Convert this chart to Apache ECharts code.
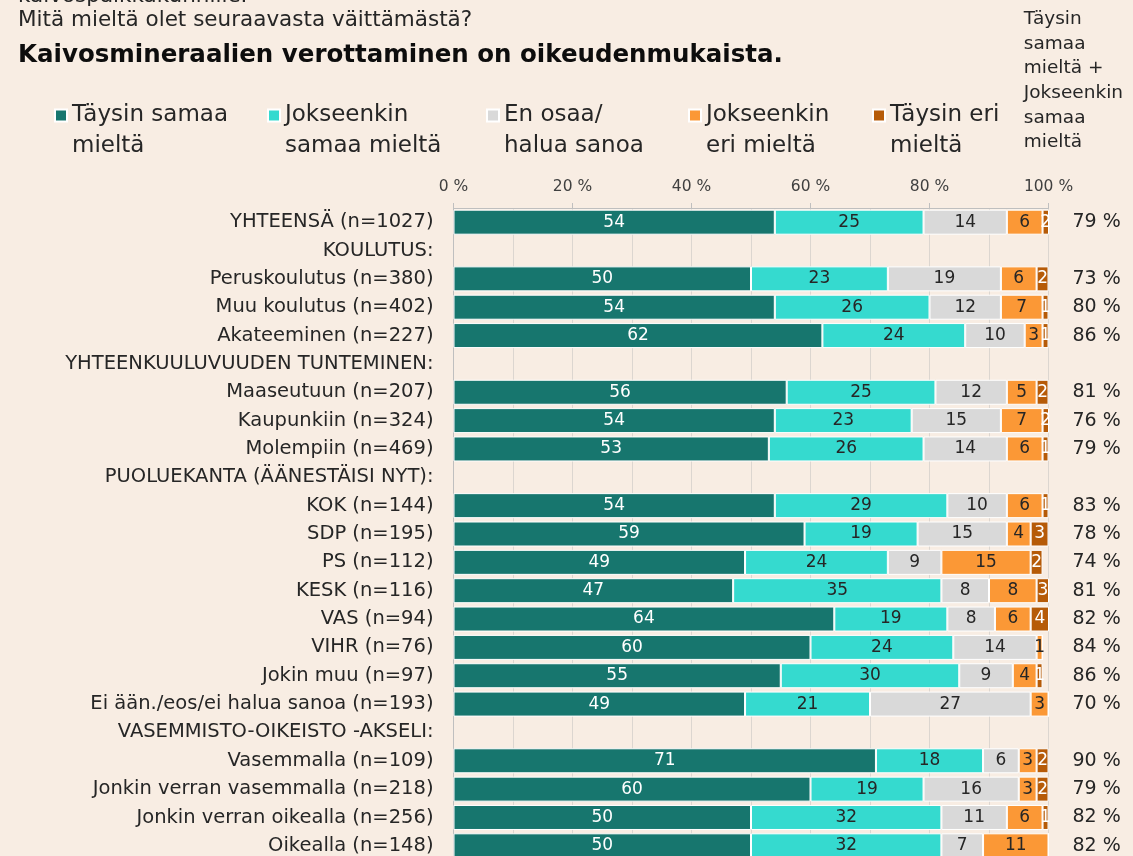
<!DOCTYPE html>
<html>
<head>
<meta charset="utf-8">
<script src="https://cdn.jsdelivr.net/npm/echarts@6/dist/echarts.min.js"></script>
<style>
  html, body { margin: 0; padding: 0; background: #f8ede3; overflow: hidden; }
  #chart { width: 1133px; height: 870px; }
</style>
</head>
<body>
<div id="chart"></div>
<script>
// rows of the chart, header rows have no bars
const categories = [
  'YHTEENSÄ (n=1027)', 'KOULUTUS:', 'Peruskoulutus (n=380)', 'Muu koulutus (n=402)', 'Akateeminen (n=227)',
  'YHTEENKUULUVUUDEN TUNTEMINEN:', 'Maaseutuun (n=207)', 'Kaupunkiin (n=324)', 'Molempiin (n=469)',
  'PUOLUEKANTA (ÄÄNESTÄISI NYT):', 'KOK (n=144)', 'SDP (n=195)', 'PS (n=112)', 'KESK (n=116)', 'VAS (n=94)',
  'VIHR (n=76)', 'Jokin muu (n=97)', 'Ei ään./eos/ei halua sanoa (n=193)',
  'VASEMMISTO-OIKEISTO -AKSELI:', 'Vasemmalla (n=109)', 'Jonkin verran vasemmalla (n=218)',
  'Jonkin verran oikealla (n=256)', 'Oikealla (n=148)'
];
const seriesNames = ['Täysin samaa mieltä', 'Jokseenkin samaa mieltä', 'En osaa/ halua sanoa', 'Jokseenkin eri mieltä', 'Täysin eri mieltä'];
const legendText = ['Täysin samaa\nmieltä', 'Jokseenkin\nsamaa mieltä', 'En osaa/\nhalua sanoa', 'Jokseenkin\neri mieltä', 'Täysin eri\nmieltä'];

const taysinSamaa     = [54, null, 50, 54, 62, null, 56, 54, 53, null, 54, 59, 49, 47, 64, 60, 55, 49, null, 71, 60, 50, 50];
const jokseenkinSamaa = [25, null, 23, 26, 24, null, 25, 23, 26, null, 29, 19, 24, 35, 19, 24, 30, 21, null, 18, 19, 32, 32];
const enOsaa          = [14, null, 19, 12, 10, null, 12, 15, 14, null, 10, 15,  9,  8,  8, 14,  9, 27, null,  6, 16, 11,  7];
const jokseenkinEri   = [ 6, null,  6,  7,  3, null,  5,  7,  6, null,  6,  4, 15,  8,  6,  1,  4,  3, null,  3,  3,  6, 11];
const taysinEri       = [ 2, null,  2,  1,  1, null,  2,  2,  1, null,  1,  3,  2,  3,  4,  0,  1,  0, null,  2,  2,  1,  0];
const samaaYhteensa   = ['79 %', '', '73 %', '80 %', '86 %', '', '81 %', '76 %', '79 %', '', '83 %', '78 %', '74 %', '81 %', '82 %',
                         '84 %', '86 %', '70 %', '', '90 %', '79 %', '82 %', '82 %'];

const colors = ['#17766e', '#35dacf', '#d9d9d9', '#fb9836', '#b65b08'];
const labelColors = ['#ffffff', '#262626', '#262626', '#262626', '#ffffff'];
const values = [taysinSamaa, jokseenkinSamaa, enOsaa, jokseenkinEri, taysinEri];
const legendLeft = [54, 267, 486, 688, 872];

const font = 'DejaVu Sans';
const chart = echarts.init(document.getElementById('chart'));

const option = {
  backgroundColor: '#f8ede3',
  textStyle: { fontFamily: font },
  animation: false,
  graphic: [
    { type: 'text', left: 18, top: -15, style: { text: 'kaivospaikkakunnille.', font: '21.5px "DejaVu Sans"', fill: '#262626' } },
    { type: 'text', left: 18, top: 9, style: { text: 'Mitä mieltä olet seuraavasta väittämästä?', font: '21.5px "DejaVu Sans"', fill: '#262626' } },
    { type: 'text', left: 18, top: 43, style: { text: 'Kaivosmineraalien verottaminen on oikeudenmukaista.', font: 'bold 24.5px "DejaVu Sans"', fill: '#0d0d0d' } },
    { type: 'text', right: 10, top: 7, style: { text: 'Täysin\nsamaa\nmieltä +\nJokseenkin\nsamaa\nmieltä', font: '18.5px "DejaVu Sans"', fill: '#262626', align: 'right', lineHeight: 24.6 } }
  ],
  legend: seriesNames.map((n, i) => ({
    left: legendLeft[i],
    top: 69,
    padding: 0,
    data: [n],
    icon: 'rect',
    itemWidth: 12,
    itemHeight: 12,
    selectedMode: false,
    formatter: () => ' \n' + legendText[i],
    textStyle: { fontSize: 23, color: '#262626', lineHeight: 31, fontFamily: font }
  })),
  grid: { left: 453.5, width: 595, top: 208, height: 652, containLabel: false },
  xAxis: [
    {
      type: 'value', position: 'top', min: 0, max: 100, interval: 20,
      axisLabel: { formatter: '{value} %', fontSize: 15.5, color: '#404040', margin: 13 },
      axisLine: { show: true, lineStyle: { color: '#bfbfbf' } },
      axisTick: { show: true, length: 5, lineStyle: { color: '#bfbfbf' } },
      splitLine: { show: false }
    },
    {
      type: 'value', position: 'bottom', min: 0, max: 100, interval: 10,
      axisLabel: { show: false }, axisLine: { show: false }, axisTick: { show: false },
      splitLine: { show: true, lineStyle: { color: '#dcd6d0', width: 1 } }
    }
  ],
  yAxis: [
    {
      type: 'category', inverse: true, data: categories,
      axisLine: { show: true, lineStyle: { color: '#bfbfbf' } },
      axisTick: { show: false },
      axisLabel: { fontSize: 19.5, color: '#262626', margin: 20, interval: 0 }
    },
    {
      type: 'category', inverse: true, position: 'right', data: samaaYhteensa,
      axisLine: { show: false }, axisTick: { show: false },
      axisLabel: { fontSize: 19, color: '#262626', margin: 24, interval: 0, align: 'left' }
    }
  ],
  series: values.map((v, i) => ({
    name: seriesNames[i],
    type: 'bar',
    stack: 'total',
    xAxisIndex: 0,
    yAxisIndex: 0,
    barWidth: 25,
    data: v,
    itemStyle: { color: colors[i], borderColor: '#ffffff', borderWidth: 1 },
    label: {
      show: true,
      position: 'inside',
      fontSize: 17,
      color: labelColors[i],
      formatter: p => (p.value >= 1 ? p.value : '')
    }
  }))
};

chart.setOption(option);
</script>
</body>
</html>
